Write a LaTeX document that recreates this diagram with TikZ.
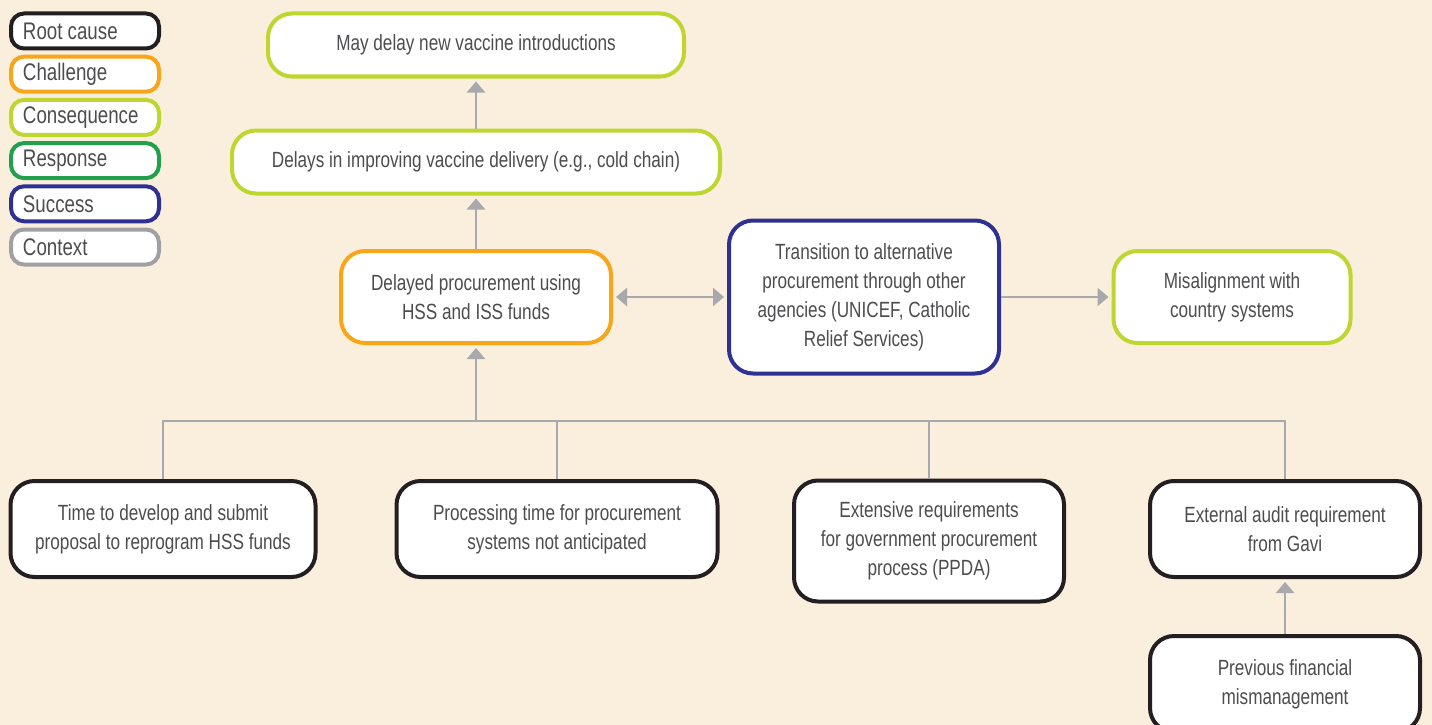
\documentclass[tikz,border=0pt]{standalone}
\usepackage{fontspec}
\setmainfont{Liberation Sans}[FakeStretch=0.78]
\usetikzlibrary{arrows.meta}
\definecolor{bg}{HTML}{FAEEDD}
\definecolor{txt}{HTML}{4D4D4F}
\definecolor{lnk}{HTML}{A7A9AC}
\definecolor{rootc}{HTML}{231F20}
\definecolor{chall}{HTML}{F9A51A}
\definecolor{conseq}{HTML}{BED630}
\definecolor{resp}{HTML}{22A04B}
\definecolor{succ}{HTML}{2E3191}
\definecolor{ctx}{HTML}{A0A0A4}
\begin{document}
\begin{tikzpicture}[x=1pt,y=-1pt,
    box/.style={rectangle,rounded corners=24pt,draw,line width=4pt,fill=white,
      align=center,text=txt,inner sep=0pt,font=\fontsize{22}{29}\selectfont},
    key/.style={rectangle,rounded corners=13pt,draw,line width=4pt,fill=white,
      minimum width=148pt,minimum height=35pt,text width=124pt,inner xsep=12pt,
      align=flush left,text=txt,font=\fontsize{24}{28}\selectfont},
    link/.style={draw=lnk,line width=2.5pt},
    arr/.style={link,-{Triangle[width=18pt,length=11pt]},shorten >=3pt}]

      \useasboundingbox[fill=bg] (0,0) rectangle (1432,725);

      % legend
      \foreach \t/\c [count=\i] in {Root cause/rootc,Challenge/chall,Consequence/conseq,Response/resp,Success/succ,Context/ctx}
        \node[key,draw=\c] (key\i) at (85,{31+43.2*(\i-1)}) {\t};

      \node[box,draw=conseq,minimum width=416pt,minimum height=63pt] (may) at (476,45) {May delay new vaccine introductions};
      \node[box,draw=conseq,minimum width=488pt,minimum height=63pt] (delays) at (476,162) {Delays in improving vaccine delivery (e.g., cold chain)};
      \node[box,draw=chall,minimum width=270pt,minimum height=92pt] (proc) at (476,297) {Delayed procurement using\\HSS and ISS funds};
      \node[box,draw=succ,minimum width=270pt,minimum height=153pt] (trans) at (864,297) {Transition to alternative\\procurement through other\\agencies (UNICEF, Catholic\\Relief Services)};
      \node[box,draw=conseq,minimum width=237pt,minimum height=92pt] (mis) at (1232,297) {Misalignment with\\country systems};

      \node[box,draw=rootc,minimum width=305pt,minimum height=96pt] (time) at (163,529) {Time to develop and submit\\proposal to reprogram HSS funds};
      \node[box,draw=rootc,minimum width=321pt,minimum height=96pt] (processing) at (557,529) {Processing time for procurement\\systems not anticipated};
      \node[box,draw=rootc,minimum width=270pt,minimum height=121pt] (ppda) at (929,541) {Extensive requirements\\for government procurement\\process (PPDA)};
      \node[box,draw=rootc,minimum width=270pt,minimum height=96pt] (audit) at (1285,529) {External audit requirement\\from Gavi};
      \node[box,draw=rootc,minimum width=270pt,minimum height=96pt] (prev) at (1285,684) {Previous financial\\mismanagement};

      \coordinate (bus) at (476,421);
      \draw[link] (time.north) |- (bus) -| (audit.north);
      \draw[link] (processing.north) -- (processing.north |- bus);
      \draw[link] (ppda.north) -- (ppda.north |- bus);

      \draw[arr] (bus) -- (proc);
      \draw[arr] (proc) -- (delays);
      \draw[arr] (delays) -- (may);
      \draw[arr,{Triangle[width=18pt,length=11pt]}-{Triangle[width=18pt,length=11pt]},shorten <=3pt] (proc) -- (trans);
      \draw[arr] (trans) -- (mis);
      \draw[arr] (prev) -- (audit);

\end{tikzpicture}
\end{document}
